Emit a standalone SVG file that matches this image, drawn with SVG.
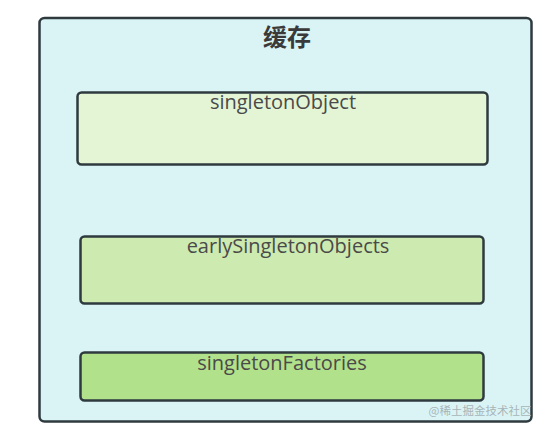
<svg xmlns="http://www.w3.org/2000/svg" width="545" height="432" viewBox="0 0 545 432">
<style>
.box{stroke:#2f3a3f;stroke-width:2.5}
.lbl{font-family:"Open Sans","Noto Sans","Liberation Sans",sans-serif;font-size:20px;fill:#4a4a4a;text-anchor:middle}
</style>
<rect width="545" height="432" fill="#ffffff"/>
<g id="cache">
<rect class="box" x="39.5" y="18" width="492" height="403.5" rx="5" fill="#daf4f6"/>
<text x="287" y="46" font-family="'Noto Sans CJK SC',sans-serif" font-size="24" font-weight="bold" fill="#3a3a3a" text-anchor="middle">缓存</text>
</g>
<g id="singletonObject">
<rect class="box" x="77.5" y="92.5" width="410" height="72" rx="4" fill="#e4f5d6"/>
<text class="lbl" x="283" y="109">singletonObject</text>
</g>
<g id="earlySingletonObjects">
<rect class="box" x="80.5" y="236.5" width="403" height="67" rx="4" fill="#cdeab0"/>
<text class="lbl" x="288" y="253">earlySingletonObjects</text>
</g>
<g id="singletonFactories">
<rect class="box" x="80.5" y="352.5" width="403" height="48" rx="4" fill="#b2e18c"/>
<text class="lbl" x="282" y="370">singletonFactories</text>
</g>
<g id="connectors"></g>
<text x="480" y="415" font-family="'Noto Sans CJK SC',sans-serif" font-size="11.5" fill="#a8b4b8" text-anchor="middle">@稀土掘金技术社区</text>
</svg>
